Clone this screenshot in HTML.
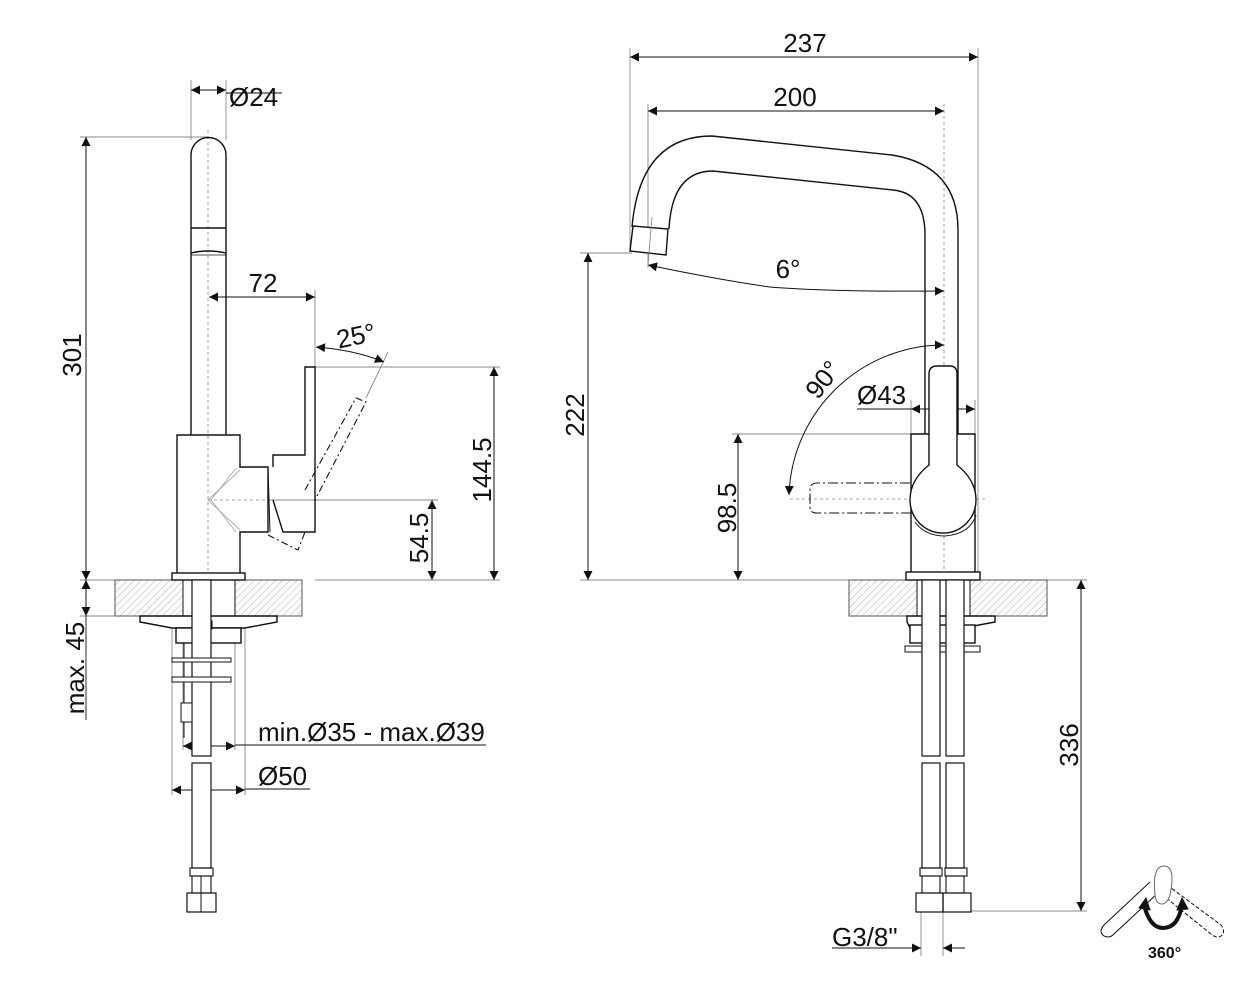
<!DOCTYPE html>
<html><head><meta charset="utf-8"><style>html,body{margin:0;padding:0;background:#fff}svg{display:block}text{font-family:"Liberation Sans",sans-serif;fill:#111}</style></head><body>
<svg width="1250" height="1000" viewBox="0 0 1250 1000" xmlns="http://www.w3.org/2000/svg">
<defs>
<pattern id="h" patternUnits="userSpaceOnUse" width="5" height="5" patternTransform="rotate(45)"><line x1="0" y1="0" x2="0" y2="5" stroke="#999" stroke-width="0.8"/></pattern>
<marker id="a" viewBox="0 0 10 10" refX="10" refY="5" markerWidth="12" markerHeight="9" markerUnits="userSpaceOnUse" orient="auto-start-reverse"><path d="M0,0 L10,5 L0,10 z" fill="#111"/></marker>
</defs>
<g fill="none" stroke="#111" stroke-width="1.4">
<g stroke="#888" stroke-width="0.9">
<line x1="191" y1="80" x2="191" y2="140"/><line x1="226" y1="80" x2="226" y2="140"/>
<line x1="80" y1="137" x2="208" y2="137"/>
<line x1="315" y1="290" x2="315" y2="372"/>
<line x1="315" y1="367" x2="500" y2="367"/>
<line x1="268" y1="500" x2="438" y2="500"/>
<line x1="315" y1="580" x2="500" y2="580"/>
<line x1="80" y1="580" x2="115" y2="580"/><line x1="80" y1="616" x2="115" y2="616"/>
<line x1="388" y1="352" x2="366" y2="398"/>
<line x1="172" y1="628" x2="172" y2="795"/><line x1="245" y1="628" x2="245" y2="795"/>
<line x1="183" y1="628" x2="183" y2="750"/><line x1="235" y1="628" x2="235" y2="750"/>
</g>
<line x1="208" y1="130" x2="208" y2="590" stroke="#888" stroke-width="0.8" stroke-dasharray="3,3"/>
<line x1="208" y1="500" x2="268" y2="500" stroke="#888" stroke-width="0.8" stroke-dasharray="3,3"/>
<line x1="191" y1="90" x2="226" y2="90" marker-start="url(#a)" marker-end="url(#a)" stroke-width="1"/>
<line x1="226" y1="93" x2="282" y2="93" stroke-width="0.9"/>
<line x1="86" y1="137" x2="86" y2="580" marker-start="url(#a)" marker-end="url(#a)" stroke-width="1"/>
<line x1="209" y1="297" x2="315" y2="297" marker-start="url(#a)" marker-end="url(#a)" stroke-width="1"/>
<path d="M316,347 Q355,350 384,362" marker-start="url(#a)" marker-end="url(#a)" stroke-width="1"/>
<line x1="494" y1="367" x2="494" y2="580" marker-start="url(#a)" marker-end="url(#a)" stroke-width="1"/>
<line x1="432" y1="500" x2="432" y2="580" marker-start="url(#a)" marker-end="url(#a)" stroke-width="1"/>
<line x1="86" y1="580" x2="86" y2="616" marker-start="url(#a)" marker-end="url(#a)" stroke-width="1"/>
<line x1="86" y1="616" x2="86" y2="720" stroke-width="0.9"/>
<line x1="183" y1="746" x2="235" y2="746" marker-start="url(#a)" marker-end="url(#a)" stroke-width="1"/>
<line x1="235" y1="745" x2="486" y2="745" stroke-width="0.9"/>
<line x1="172" y1="790" x2="245" y2="790" marker-start="url(#a)" marker-end="url(#a)" stroke-width="1"/>
<line x1="245" y1="789" x2="310" y2="789" stroke-width="0.9"/>
<path d="M191,435 L191,155 A17.5,17.5 0 0 1 226,155 L226,435"/>
<line x1="191" y1="228" x2="226" y2="228"/><path d="M191,253 Q208,249 226,253"/><line x1="191" y1="255" x2="226" y2="255" stroke-width="0.8"/>
<path d="M177,578 L177,435 L240,435 L240,467 L268,467 L268,532 L240,532 L240,578"/>
<path d="M273,467 L273,455 L305,455 L305,367 L315,367 L315,532 L283,532 L273,500" />
<path d="M268,468 L270,532" stroke-width="1"/>
<g stroke="#aaa" stroke-width="0.9"><path d="M240,470 L208,500 L240,530"/><path d="M236,468 L211,500 L236,532"/></g>
<path d="M305,490 L356,398 L366,402 L315,500" stroke-dasharray="7,3,2,3" stroke-width="1.1"/>
<path d="M268,535 L298,550 L305,532" stroke-dasharray="7,3,2,3" stroke-width="1.1"/>
<rect x="115" y="580" width="187" height="36" fill="url(#h)" stroke="#555" stroke-width="1"/>
<rect x="183" y="581" width="52" height="35" fill="#fff" stroke="none"/>
<line x1="183" y1="580" x2="183" y2="616" stroke-width="1"/><line x1="235" y1="580" x2="235" y2="616" stroke-width="1"/>
<rect x="172" y="573" width="73" height="7" fill="#fff"/>
<path d="M140,616 L277,616 L277,622 L245,628 L172,628 L140,622 Z" fill="#fff"/>
<rect x="176" y="628" width="65" height="15" fill="#fff"/>
<rect x="205" y="621" width="7" height="8" fill="#fff" stroke-width="1"/>
<rect x="192" y="580" width="19" height="176" fill="#fff" stroke-width="1.2"/>
<line x1="184" y1="643" x2="184" y2="738" stroke-width="1"/>
<rect x="172" y="658" width="59" height="4" fill="#fff" stroke-width="1"/>
<rect x="172" y="677" width="59" height="5" fill="#fff" stroke-width="1"/>
<rect x="181" y="703" width="11" height="19" fill="#fff" stroke-width="1"/>
<rect x="192" y="763" width="19" height="105" fill="#fff" stroke-width="1.2"/>
<rect x="190" y="868" width="23" height="8" stroke-width="1.1"/><rect x="192" y="876" width="19" height="17" stroke-width="1.1"/><line x1="201" y1="876" x2="201" y2="893" stroke-width="1"/>
<rect x="187" y="893" width="29" height="19" stroke-width="1.2"/><line x1="201" y1="893" x2="201" y2="912" stroke-width="1"/>

<g stroke="#888" stroke-width="0.9">
<line x1="630" y1="48" x2="630" y2="252"/><line x1="978" y1="48" x2="978" y2="580"/>
<line x1="648" y1="104" x2="648" y2="268"/>
<line x1="580" y1="253" x2="632" y2="253"/>
<line x1="580" y1="580" x2="906" y2="580"/>
<line x1="732" y1="434" x2="911" y2="434"/>
<line x1="911" y1="400" x2="911" y2="434"/><line x1="975" y1="400" x2="975" y2="434"/>
<line x1="970" y1="911" x2="1087" y2="911"/><line x1="1047" y1="580" x2="1087" y2="580"/>
<line x1="921" y1="912" x2="921" y2="956"/><line x1="943" y1="912" x2="943" y2="956"/>
</g>
<line x1="944" y1="104" x2="944" y2="590" stroke="#888" stroke-width="0.8" stroke-dasharray="3,3"/>
<line x1="790" y1="499" x2="987" y2="499" stroke="#888" stroke-width="0.8" stroke-dasharray="3,3"/>
<line x1="630" y1="57" x2="978" y2="57" marker-start="url(#a)" marker-end="url(#a)" stroke-width="1"/>
<line x1="648" y1="111" x2="944" y2="111" marker-start="url(#a)" marker-end="url(#a)" stroke-width="1"/>
<path d="M648,265 Q720,280 770,287 Q830,292 944,291" marker-start="url(#a)" marker-end="url(#a)" stroke-width="1"/>
<line x1="588" y1="253" x2="588" y2="580" marker-start="url(#a)" marker-end="url(#a)" stroke-width="1"/>
<line x1="738" y1="434" x2="738" y2="580" marker-start="url(#a)" marker-end="url(#a)" stroke-width="1"/>
<line x1="911" y1="409" x2="975" y2="409" marker-start="url(#a)" marker-end="url(#a)" stroke-width="1"/>
<line x1="857" y1="409" x2="911" y2="409" stroke-width="0.9"/>
<path d="M944,345 A155,155 0 0 0 789,495" marker-start="url(#a)" marker-end="url(#a)" stroke-width="1"/>
<line x1="1081" y1="580" x2="1081" y2="911" marker-start="url(#a)" marker-end="url(#a)" stroke-width="1"/>
<line x1="832" y1="948" x2="921" y2="948" marker-end="url(#a)" stroke-width="1"/>
<line x1="965" y1="948" x2="943" y2="948" marker-end="url(#a)" stroke-width="1"/>
<path d="M632,227 Q640,136 712,136 L892,155 Q958,166 958,230 L958,434"/>
<path d="M669,229 Q672,171 713,171 L893,190 Q925,193 925,235 L925,434"/>
<path d="M633,226 L668,229 L666,255 L630,251 Z" fill="#fff"/>
<line x1="652" y1="217" x2="648" y2="265" stroke="#888" stroke-width="0.9"/>
<path d="M911,573 L911,434 L929,434"/><path d="M957,434 L975,434 L975,573"/>
<path d="M929,465 L929,374 Q929,366 937,366 L950,366 Q957,366 957,374 L957,465 Q976,480 976,500 A33,33 0 0 1 910,500 Q910,480 929,465 Z" fill="#fff"/>
<path d="M915,522 Q925,536 945,536 Q970,534 976,515" stroke-width="1"/>
<path d="M910,483 L817,483 Q810,483 810,490 L810,507 Q810,513 817,513 L914,513" stroke-dasharray="10,3,2,3" stroke-width="1.1"/>
<rect x="849" y="580" width="198" height="36" fill="url(#h)" stroke="#555" stroke-width="1"/>
<rect x="917" y="581" width="53" height="35" fill="#fff" stroke="none"/>
<line x1="917" y1="580" x2="917" y2="616" stroke-width="1"/><line x1="970" y1="580" x2="970" y2="616" stroke-width="1"/>
<rect x="906" y="572" width="74" height="8" fill="#fff"/>
<path d="M907,616 L995,616 L995,622 L963,628 L910,628 L907,622 Z" fill="#fff"/>
<rect x="910" y="625" width="65" height="18" fill="#fff"/>
<rect x="905" y="646" width="75" height="6" fill="#fff" stroke-width="1"/>
<rect x="922" y="580" width="18" height="176" fill="#fff" stroke-width="1.2"/>
<rect x="946" y="580" width="18" height="176" fill="#fff" stroke-width="1.2"/>
<rect x="922" y="763" width="18" height="105" fill="#fff" stroke-width="1.2"/>
<rect x="946" y="763" width="18" height="105" fill="#fff" stroke-width="1.2"/>
<rect x="920" y="868" width="22" height="8" stroke-width="1.1"/><rect x="945" y="868" width="22" height="8" stroke-width="1.1"/>
<rect x="922" y="876" width="18" height="17" stroke-width="1.1"/><rect x="946" y="876" width="18" height="17" stroke-width="1.1"/>
<rect x="916" y="893" width="27" height="19" stroke-width="1.2"/><rect x="943" y="893" width="28" height="19" stroke-width="1.2"/>
<path d="M1150,882 L1104,925 Q1098,932 1104,936 Q1110,939 1115,933 L1158,893" stroke-width="1"/>
<path d="M1167,885 L1221,925 Q1226,932 1221,936 Q1217,939 1211,934 L1160,893" stroke-dasharray="4,2" stroke-width="1"/>
<path d="M1155,895 Q1152,866 1164,866 Q1176,866 1170,895 Q1167,904 1162,904 Q1156,904 1155,895 Z" fill="#fff" stroke="#666" stroke-width="1"/>
<path d="M1144,905 Q1150,928 1163,928 Q1178,928 1182,905" stroke-width="4"/>
<path d="M1139,908 L1146,898 L1150,910 Z M1177,910 L1182,898 L1188,909 Z" fill="#111" stroke-width="1"/>
</g>
<g font-size="26">
<text x="229" y="106">Ø24</text>
<text x="263" y="292" text-anchor="middle">72</text>
<text x="336" y="346" transform="rotate(-12 350 335)">25°</text>
<text text-anchor="middle" transform="translate(81,355) rotate(-90)">301</text>
<text text-anchor="middle" transform="translate(491,470) rotate(-90)">144.5</text>
<text text-anchor="middle" transform="translate(428,538) rotate(-90)">54.5</text>
<text text-anchor="middle" transform="translate(84,668) rotate(-90)">max. 45</text>
<text x="258" y="741">min.Ø35 - max.Ø39</text>
<text x="258" y="785">Ø50</text>
<text x="805" y="52" text-anchor="middle">237</text>
<text x="795" y="106" text-anchor="middle">200</text>
<text x="788" y="278" text-anchor="middle">6°</text>
<text text-anchor="middle" transform="translate(584,415) rotate(-90)">222</text>
<text text-anchor="middle" transform="translate(830,385) rotate(-52)">90°</text>
<text x="857" y="404">Ø43</text>
<text text-anchor="middle" transform="translate(736,508) rotate(-90)">98.5</text>
<text text-anchor="middle" transform="translate(1078,745) rotate(-90)">336</text>
<text x="832" y="946">G3/8"</text>
</g>
<text x="1148" y="958" font-size="16" font-weight="bold">360°</text>
</svg>
</body></html>
